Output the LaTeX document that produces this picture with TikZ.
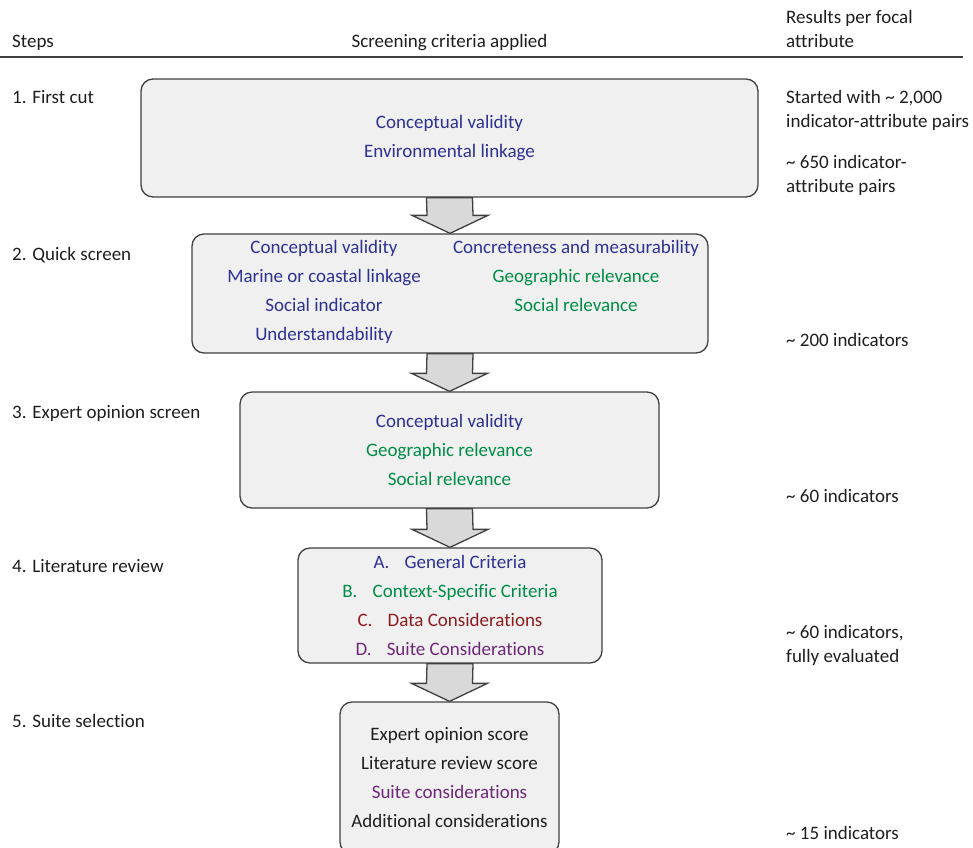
\documentclass[tikz,border=0pt]{standalone}
\usepackage{fontspec}
\setmainfont{Carlito}[Ligatures=NoCommon]
\usetikzlibrary{calc}

\definecolor{boxline}{RGB}{64,64,64}
\definecolor{boxfill}{RGB}{240,240,240}
\definecolor{arrowfill}{RGB}{217,217,217}
\definecolor{textdark}{RGB}{30,30,30}
\definecolor{critblue}{RGB}{46,49,146}
\definecolor{critgreen}{RGB}{0,140,70}
\definecolor{critred}{RGB}{140,28,32}
\definecolor{critpurple}{RGB}{110,40,120}

\newcommand\labelfont{\fontsize{19}{29}\selectfont}

\begin{document}
\begin{tikzpicture}[x=1pt,y=-1pt]
\tikzstyle{stagebox} = [draw=boxline, fill=boxfill, line width=1.3pt, rounded corners=12pt, inner sep=0pt, align=center, font=\labelfont, text=textdark]
\tikzstyle{flowarrow} = [draw=boxline, fill=arrowfill, line width=1.3pt]
\tikzstyle{plain} = [inner sep=0pt, font=\labelfont, text=textdark, anchor=base west]
\tikzstyle{crit} = [inner sep=0pt, font=\labelfont, align=center, anchor=north]

\useasboundingbox (0,0) rectangle (973,847);
\clip (0,0) rectangle (973,847);

% header
\node[plain] (hsteps) at (12,47) {Steps};
\node[plain, anchor=base] (hcrit) at (449.5,47) {Screening criteria applied};
\node[plain] (hres) at (786,23) {Results per focal};
\node[plain] (hresb) at (786,47) {attribute};
\draw[line width=1.2pt, boxline] (0,57) -- (963,57);

% steps
\node[plain] (step1) at (12,103) {1. First cut};
\node[plain] (step2) at (12,260) {2. Quick screen};
\node[plain] (step3) at (12,418) {3. Expert opinion screen};
\node[plain] (step4) at (12,572) {4. Literature review};
\node[plain] (step5) at (12,727) {5. Suite selection};

% boxes
\node[stagebox, minimum width=617pt, minimum height=118pt, text=critblue] (box1) at (449.5,138)
  {Conceptual validity\\Environmental linkage};
\node[stagebox, minimum width=516pt, minimum height=119pt] (box2) at (450,293.5) {};
\node[crit, text=critblue] (box2l) at (324,239.7)
  {Conceptual validity\\Marine or coastal linkage\\Social indicator\\Understandability};
\node[crit] (box2r) at (576,239.7)
  {\textcolor{critblue}{Concreteness and measurability}\\\textcolor{critgreen}{Geographic relevance}\\\textcolor{critgreen}{Social relevance}};
\node[stagebox, minimum width=419pt, minimum height=116pt] (box3) at (449.5,450)
  {\textcolor{critblue}{Conceptual validity}\\\textcolor{critgreen}{Geographic relevance}\\\textcolor{critgreen}{Social relevance}};
\node[stagebox, minimum width=304pt, minimum height=115pt] (box4) at (450,605.5)
  {\textcolor{critblue}{A.\hspace{0.8em}General Criteria}\\
   \textcolor{critgreen}{B.\hspace{0.8em}Context-Specific Criteria}\\
   \textcolor{critred}{C.\hspace{0.8em}Data Considerations}\\
   \textcolor{critpurple}{D.\hspace{0.8em}Suite Considerations}};
\node[stagebox, minimum width=219pt, minimum height=152pt] (box5) at (449.5,778)
  {Expert opinion score\\Literature review score\\\textcolor{critpurple}{Suite considerations}\\Additional considerations};

% arrows
\foreach \a/\b in {box1/box2, box2/box3, box3/box4, box4/box5}
  \draw[flowarrow] ($(\a.south)+(-23,0)$) -- ($(\a.south)+(23,0)$) -- ($(\b.north)+(23,-18)$)
    -- ($(\b.north)+(38,-18)$) -- (\b.north) -- ($(\b.north)+(-38,-18)$) -- ($(\b.north)+(-23,-18)$) -- cycle;

% results
\node[plain] (res1) at (786,103) {Started with \textasciitilde{} 2,000};
\node[plain] (res1b) at (786,127) {indicator-attribute pairs};
\node[plain] (res2) at (786,168) {\textasciitilde{} 650 indicator-};
\node[plain] (res2b) at (786,192) {attribute pairs};
\node[plain] (res3) at (786,346) {\textasciitilde{} 200 indicators};
\node[plain] (res4) at (786,502) {\textasciitilde{} 60 indicators};
\node[plain] (res5) at (786,638) {\textasciitilde{} 60 indicators,};
\node[plain] (res5b) at (786,662) {fully evaluated};
\node[plain] (res6) at (786,839) {\textasciitilde{} 15 indicators};
\end{tikzpicture}
\end{document}
